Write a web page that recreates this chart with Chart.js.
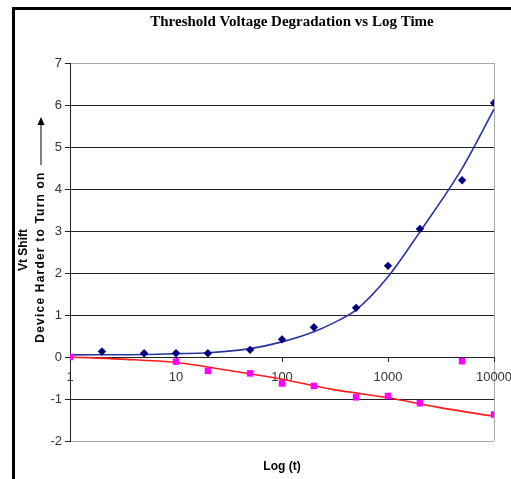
<!DOCTYPE html>
<html>
<head>
<meta charset="utf-8">
<script src="https://cdn.jsdelivr.net/npm/chart.js@4"></script>
<style>
    body { margin: 0; background: #fff; overflow: hidden; }
    #wrap { position: absolute; left: 0; top: 0; width: 511px; height: 479px; }
    #frame { position: absolute; left: 12px; top: 7px; width: 520px; height: 500px; border: 3px solid #000; }
</style>
</head>
<body>
<div id="frame"></div>
<div id="wrap"><canvas id="vtChart" width="511" height="479"></canvas></div>
<script>
// Measured points (time, Vt shift)
const blueTimes = [2, 5, 10, 20, 50, 100, 200, 500, 1000, 2000, 5000, 10000];
const blueShift = [0.13, 0.09, 0.09, 0.09, 0.17, 0.42, 0.71, 1.17, 2.17, 3.05, 4.21, 6.05];
const pinkTimes = [1, 10, 20, 50, 100, 200, 500, 1000, 2000, 5000, 10000];
const pinkShift = [0, -0.11, -0.33, -0.39, -0.63, -0.69, -0.96, -0.93, -1.1, -0.1, -1.37];

// Trendlines
const blueTrendTimes = [1, 5, 10, 20, 50, 100, 200, 300, 500, 1000, 2000, 5000, 10000];
const blueTrendShift = [0.05, 0.06, 0.08, 0.1, 0.2, 0.36, 0.6, 0.8, 1.12, 1.91, 2.98, 4.49, 5.9];
const redTrendTimes = [1, 3, 10, 30, 100, 300, 1000, 3000, 10000];
const redTrendShift = [0, -0.05, -0.13, -0.31, -0.53, -0.77, -0.97, -1.2, -1.41];

const xTickLabels = [1, 10, 100, 1000, 10000];

function toPoints(xs, ys) {
    return xs.map((x, i) => ({ x: x, y: ys[i] }));
}

const isDecade = v => xTickLabels.includes(v);

// Titles drawn on the canvas at the reference positions
const titlesPlugin = {
    id: 'titles',
    afterDraw(chart) {
        const ctx = chart.ctx;
        ctx.save();
        ctx.fillStyle = '#000';
        ctx.textAlign = 'center';
        ctx.textBaseline = 'middle';
        ctx.font = 'bold 15px "Liberation Serif", "Times New Roman", serif';
        ctx.fillText('Threshold Voltage Degradation vs Log Time', 292, 22);

        ctx.font = 'bold 12px "Liberation Sans", Arial, sans-serif';
        ctx.fillText('Log (t)', 282, 467);

        ctx.translate(24, 250);
        ctx.rotate(-Math.PI / 2);
        ctx.fillText('Vt Shift', 0, 0);
        ctx.restore();

        ctx.save();
        ctx.fillStyle = '#000';
        ctx.font = 'bold 12px "Liberation Sans", Arial, sans-serif';
        ctx.letterSpacing = '1.2px';
        ctx.textBaseline = 'middle';
        ctx.translate(41, 257);
        ctx.rotate(-Math.PI / 2);
        ctx.textAlign = 'center';
        ctx.fillText('Device Harder to Turn on', 0, 0);
        // arrow
        ctx.strokeStyle = '#000';
        ctx.lineWidth = 1;
        ctx.beginPath();
        ctx.moveTo(92, 0);
        ctx.lineTo(134, 0);
        ctx.stroke();
        ctx.beginPath();
        ctx.moveTo(140, 0);
        ctx.lineTo(132, -3.5);
        ctx.lineTo(132, 3.5);
        ctx.closePath();
        ctx.fill();
        ctx.restore();
    }
};

new Chart(document.getElementById('vtChart'), {
    type: 'scatter',
    data: {
        datasets: [
            {
                label: 'Blue trend',
                data: toPoints(blueTrendTimes, blueTrendShift),
                showLine: true,
                borderColor: '#2b35a0',
                borderWidth: 1.6,
                pointRadius: 0,
                cubicInterpolationMode: 'monotone',
                order: 3
            },
            {
                label: 'Red trend',
                data: toPoints(redTrendTimes, redTrendShift),
                showLine: true,
                borderColor: '#ff1a1a',
                borderWidth: 1.6,
                pointRadius: 0,
                cubicInterpolationMode: 'monotone',
                order: 3
            },
            {
                label: 'Blue points',
                data: toPoints(blueTimes, blueShift),
                pointStyle: 'rectRot',
                pointRadius: 4.2,
                backgroundColor: '#000080',
                borderColor: '#000080',
                borderWidth: 0,
                order: 1
            },
            {
                label: 'Pink points',
                data: toPoints(pinkTimes, pinkShift),
                pointStyle: 'rect',
                pointRadius: 4.6,
                backgroundColor: '#ff00ff',
                borderColor: '#ff00ff',
                borderWidth: 0,
                order: 0
            }
        ]
    },
    options: {
        responsive: false,
        animation: false,
        layout: {
            padding: { left: 28, right: 17, top: 63, bottom: 38 }
        },
        plugins: {
            legend: { display: false },
            title: { display: false },
            tooltip: { enabled: false }
        },
        scales: {
            x: {
                type: 'logarithmic',
                position: { y: 0 },
                min: 1,
                max: 10000,
                afterFit: scale => {
                    scale.height = 0;
                    scale.paddingLeft = 0;
                    scale.paddingRight = 0;
                },
                afterBuildTicks: scale => {
                    scale.ticks = xTickLabels.map(v => ({ value: v }));
                },
                border: { display: true, color: '#222', width: 1 },
                grid: {
                    drawOnChartArea: true,
                    color: c => (c.tick && c.tick.value === 10000) ? '#a8a8a8' : 'rgba(0,0,0,0)',
                    tickColor: '#222',
                    tickLength: 4
                },
                ticks: {
                    color: '#333',
                    font: { family: '"Liberation Sans", Arial, sans-serif', size: 13 },
                    maxRotation: 0,
                    autoSkip: false,
                    padding: 9,
                    callback: v => isDecade(v) ? String(v) : ''
                }
            },
            y: {
                min: -2,
                max: 7,
                afterFit: scale => {
                    scale.width = 42;
                    scale.paddingTop = 0;
                    scale.paddingBottom = 0;
                },
                border: { display: true, color: '#222', width: 1 },
                grid: {
                    color: c => (c.tick && (c.tick.value === 7 || c.tick.value === -2)) ? '#a8a8a8' : '#222',
                    tickColor: '#222',
                    tickLength: 5
                },
                ticks: {
                    stepSize: 1,
                    color: '#333',
                    padding: 3,
                    font: { family: '"Liberation Sans", Arial, sans-serif', size: 13 }
                }
            }
        }
    },
    plugins: [titlesPlugin]
});
</script>
</body>
</html>
